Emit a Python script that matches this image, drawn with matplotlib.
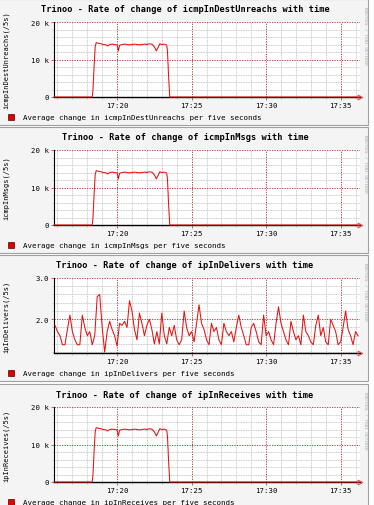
import numpy as np
import matplotlib
matplotlib.use('Agg')
import matplotlib.pyplot as plt
from matplotlib.patches import Rectangle

W, H = 374, 506
MONO = 'DejaVu Sans Mono'

# time axis: seconds after 17:15:00
x_min, x_max = 46, 1278
tick_pos = [300, 600, 900, 1200]
tick_lab = ['17:20', '17:25', '17:30', '17:35']

# burst shape (icmpInDestUnreachs, icmpInMsgs, ipInReceives look the same)
burst_t = [46, 200, 203, 208, 212, 216, 225, 235, 245, 255, 262, 270, 280, 290,
           300, 305, 310, 320, 330, 340, 350, 360, 370, 380, 390, 400, 410, 420,
           430, 440, 450, 458, 465, 472, 480, 490, 500, 503, 507, 512, 1278]
burst_v = [0, 0, 2000, 9000, 13500, 14500, 14300, 14200, 14000, 13900, 13600,
           14000, 14100, 14000, 13900, 12300, 13800, 14000, 14100, 14000, 13900,
           14000, 14100, 14000, 13900, 14000, 14100, 14000, 14200, 14100, 13400,
           12300, 13200, 14200, 14000, 14100, 13800, 12000, 6000, 0, 0]

# ipInDelivers, every 10 s from 17:15:50
deliv_v = [1.85, 1.7, 1.6, 1.38, 1.38, 1.75, 2.1, 1.7, 1.5, 1.38, 1.38, 2.1, 1.8,
           1.6, 1.7, 1.38, 1.6, 2.55, 2.6, 1.8, 1.2, 1.7, 1.95, 1.75, 1.6, 1.35,
           1.9, 1.85, 1.95, 1.8, 2.45, 2.2, 1.75, 1.5, 2.15, 1.9, 1.6, 1.85, 2.0,
           1.75, 1.4, 1.7, 1.4, 2.15, 1.6, 1.4, 1.8, 1.6, 1.85, 1.5, 1.38, 1.5,
           2.2, 1.8, 1.6, 1.7, 1.45, 1.9, 2.35, 1.9, 1.75, 1.5, 1.38, 1.9, 1.7,
           1.8, 1.5, 1.38, 1.9, 1.7, 1.6, 1.7, 1.45, 1.8, 2.1, 1.8, 1.6, 1.38,
           1.38, 1.8, 1.9, 1.7, 1.45, 1.38, 2.1, 1.6, 1.7, 1.5, 1.38, 1.9, 2.3,
           1.9, 1.7, 1.5, 1.38, 1.95, 1.7, 1.5, 1.6, 1.38, 2.1, 1.7, 1.6, 1.45,
           1.38, 1.85, 2.1, 1.6, 1.8, 1.45, 1.38, 2.0, 1.85, 1.7, 1.38, 1.45,
           1.8, 2.2, 1.75, 1.6, 1.38, 1.7, 1.6]
deliv_t = 50 + 10 * np.arange(len(deliv_v))

panels = [
    dict(title='Trinoo - Rate of change of icmpInDestUnreachs with time',
         ylabel='icmpInDestUnreachs(/5s)',
         legend='Average change in icmpInDestUnreachs per five seconds',
         t=burst_t, v=burst_v, top=0),
    dict(title='Trinoo - Rate of change of icmpInMsgs with time',
         ylabel='icmpInMsgs(/5s)',
         legend='Average change in icmpInMsgs per five seconds',
         t=burst_t, v=burst_v, top=128),
    dict(title='Trinoo - Rate of change of ipInDelivers with time',
         ylabel='ipInDelivers(/5s)',
         legend='Average change in ipInDelivers per five seconds',
         t=deliv_t, v=deliv_v, top=256),
    dict(title='Trinoo - Rate of change of ipInReceives with time',
         ylabel='ipInReceives(/5s)',
         legend='Average change in ipInReceives per five seconds',
         t=burst_t, v=burst_v, top=385),
]


def fx(x):
    return x / W


def fy(y):
    return 1 - y / H


fig = plt.figure(figsize=(W / 100, H / 100), dpi=100, facecolor='white')

for i, p in enumerate(panels):
    top = p['top']
    # panel background
    fig.add_artist(Rectangle((fx(-2), fy(top + 126)), fx(370), 126 / H,
                             transform=fig.transFigure, facecolor='#f4f4f4',
                             edgecolor='#a0a0a0', lw=0.8, zorder=0))
    py0, py1 = top + 23, top + 98
    ax = fig.add_axes([fx(54), fy(py1), fx(360 - 54), (py1 - py0) / H])
    ax.set_facecolor('white')
    for s in ax.spines.values():
        s.set_visible(False)

    ax.set_xlim(x_min, x_max)
    ax.set_xticks(tick_pos)
    ax.set_xticklabels(tick_lab)
    ax.set_xticks(np.arange(60, 1278, 60), minor=True)

    if i == 2:
        y0, y1 = 1.18, 3.0
        ax.set_ylim(y0, y1)
        ax.set_yticks([2.0, 3.0])
        ax.set_yticklabels(['2.0', '3.0'])
        ax.set_yticks(np.arange(1.2, 3.0, 0.2), minor=True)
    else:
        y0, y1 = 0, 20000
        ax.set_ylim(y0, y1)
        ax.set_yticks([0, 10000, 20000])
        ax.set_yticklabels(['0', '10 k', '20 k'])
        ax.set_yticks(np.arange(0, 20000, 2000), minor=True)

    ax.grid(which='minor', color='#b8b8b8', ls=(0, (1, 1)), lw=0.6)
    ax.grid(which='major', color='#a02828', ls=(0, (1.5, 1.5)), lw=0.6)
    ax.set_axisbelow(True)
    ax.tick_params(which='both', length=2, width=0.5, color='#b03030', pad=1.5,
                   labelsize=5.3)
    ax.tick_params(which='minor', color='#b8b8b8', length=1.5)
    for lab in ax.get_xticklabels() + ax.get_yticklabels():
        lab.set_fontfamily(MONO)

    # axes lines
    ax.axhline(y0, color='black', lw=1.0, zorder=2, clip_on=False)
    ax.axvline(x_min, color='black', lw=0.8, zorder=2, clip_on=False)
    ax.plot([x_max], [y0], marker='>', ms=3.5, mfc='none', mec='#e05050',
            mew=0.7, clip_on=False, zorder=4)

    ax.plot(p['t'], p['v'], color='#e81010', lw=0.75, zorder=3, clip_on=False)

    ax.set_ylabel(p['ylabel'], fontsize=5.0, fontfamily=MONO, labelpad=0)
    ax.yaxis.set_label_coords(fx(9 - 54) / fx(306), 0.5)

    fig.text(fx(185), fy(top + 10), p['title'], ha='center', va='center',
             fontsize=6.2, fontweight='bold', fontfamily=MONO)
    fig.text(fx(365), fy(top + 36), 'RRDTOOL / TOBI OETIKER', rotation=270,
             ha='center', va='center', fontsize=3.2, color='#a8a8a8',
             fontfamily=MONO)

    fig.add_artist(Rectangle((fx(8), fy(top + 121)), fx(6), 6 / H,
                             transform=fig.transFigure, facecolor='#e00000',
                             edgecolor='#600000', lw=0.5))
    fig.text(fx(23), fy(top + 118), p['legend'], ha='left', va='center',
             fontsize=5.4, fontfamily=MONO)

fig.savefig('out.png', dpi=100)
